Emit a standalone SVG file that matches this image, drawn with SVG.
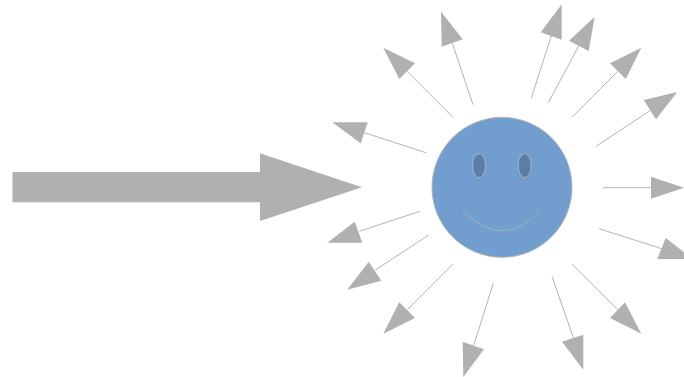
<svg xmlns="http://www.w3.org/2000/svg" width="684" height="377" viewBox="0 0 684 377">
<style>
.h{fill:#b0b0b0;stroke:none}
.l{stroke:#b4b4b4;stroke-width:1;fill:none}
.eye{fill:#5b7da8;stroke:#a9b3bf;stroke-width:1}
</style>
<rect width="684" height="377" fill="#fff"/>
<g id="connectors">
<polygon id="big-arrow" class="h" points="12.5,172 260,172 260,153.3 362,187.3 260,221 260,202.3 12.5,202.3"/>
<g id="rays">
<path class="l" d="M426,152.7L364.3,132.7"/><polygon class="h" points="332.3,122.3 367.7,122.3 360.7,143.3"/>
<path class="l" d="M452.7,117L407.3,71.7"/><polygon class="h" points="383.3,47.7 415,63.3 399.3,79"/>
<path class="l" d="M473,104.7L452.3,43.3"/><polygon class="h" points="441,11.7 462.7,39.3 441.7,46.7"/>
<path class="l" d="M531.3,98L551.3,36"/><polygon class="h" points="561.7,4.3 540.7,32.3 561.7,39.7"/>
<path class="l" d="M548.3,102.7L578.7,46"/><polygon class="h" points="594.7,16.7 569,40.7 588.7,51"/>
<path class="l" d="M572.3,117L617.7,71.3"/><polygon class="h" points="641.3,47.7 610,63.3 625.7,79"/>
<path class="l" d="M596,146.3L650,110.7"/><polygon class="h" points="677.3,92 643.7,100 656,119.3"/>
<path class="l" d="M603,187.7H651"/><polygon class="h" points="684,187.7 651,176.7 651,198.7"/>
<path class="l" d="M599,228.7L661.7,248.7"/><polygon class="h" points="692.5,259 665.7,238 657.3,259"/>
<path class="l" d="M572,264.3L617.7,309.7"/><polygon class="h" points="641.3,333.7 625,302.3 610,318"/>
<path class="l" d="M552,276.3L573.3,337.7"/><polygon class="h" points="583.3,369.7 583.3,334.7 562,341.7"/>
<path class="l" d="M493.3,283.3L473.7,345.3"/><polygon class="h" points="463.3,377 462.7,341.7 484,349.3"/>
<path class="l" d="M452.7,264.3L407.3,309.7"/><polygon class="h" points="383.3,333.7 399.3,302.3 415,318"/>
<path class="l" d="M428.7,235L375,270.3"/><polygon class="h" points="347.3,289.7 368.7,261.7 381.3,280.7"/>
<path class="l" d="M420,211.3L359.3,231.3"/><polygon class="h" points="327.3,242.7 354.7,221.7 362.3,242.7"/>
</g>
</g>
<g id="smiley">
<circle cx="502" cy="187.3" r="70" fill="#719ECE" stroke="#b4b4b4" stroke-width="1"/>
<ellipse class="eye" cx="479" cy="165.7" rx="6.5" ry="12"/>
<ellipse class="eye" cx="524.7" cy="165.7" rx="6.5" ry="12"/>
<path d="M463.3,211Q501.8,250.4 540.3,211" fill="none" stroke="#a9adb3" stroke-width="1"/>
</g>
</svg>
